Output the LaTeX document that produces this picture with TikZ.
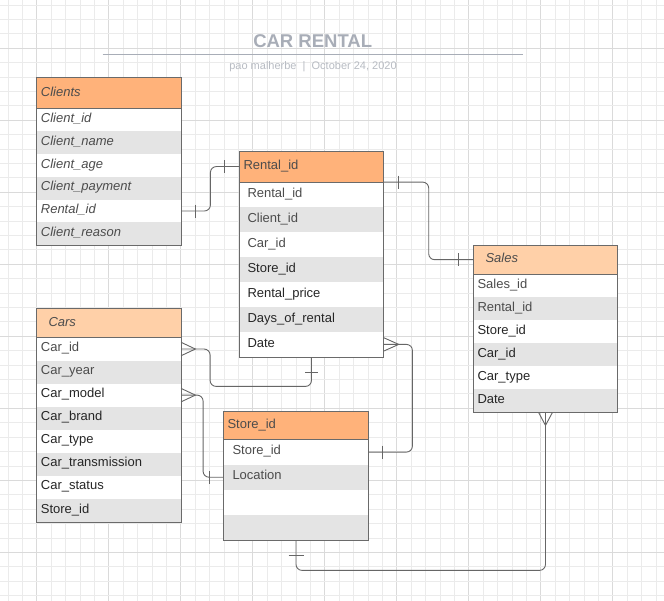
\documentclass[tikz,border=0pt]{standalone}
\usepackage{fontspec}
\setmainfont{Liberation Sans}
\usetikzlibrary{calc}
\definecolor{gridminor}{HTML}{EBEBEB}
\definecolor{gridmajor}{HTML}{DADADA}
\definecolor{hdrA}{HTML}{FFB27A}
\definecolor{hdrB}{HTML}{FFD0A8}
\definecolor{rowgrey}{HTML}{E4E4E4}
\definecolor{boxc}{HTML}{6A6A6A}
\definecolor{connc}{HTML}{666666}
\definecolor{titlec}{HTML}{A8ADB7}
\definecolor{subc}{HTML}{B8BCC3}
\definecolor{txtdark}{HTML}{262626}
\definecolor{txtgrey}{HTML}{4C4C4C}
\tikzset{
  hdrbox/.style={anchor=north west, inner sep=0pt, draw=none},
  rowbox/.style={anchor=north west, inner sep=0pt, draw=none},
  celltext/.style={font=\fontsize{13}{15}\selectfont, text=txtdark, inner sep=0pt, text height=9.3pt, text depth=0pt},
  boxline/.style={draw=boxc, line width=0.9pt},
  conn/.style={draw=connc, line width=0.9pt, rounded corners=6pt},
  tick/.style={draw=connc, line width=0.9pt},
}
% #1 name, #2 x, #3 ytop, #4 width, #5 header h, #6 row h, #7 header fill, #8 header text, #9 rows
\newcommand\erdtable[9]{%
  \node[hdrbox,fill=#7,minimum width=#4pt,minimum height=#5pt] (#1-h) at (#2,#3) {};
  \node[celltext,anchor=west,text=txtgrey] (#1-ht) at ([xshift=\hpad pt,yshift=1.5pt]#1-h.west) {#8};
  \foreach \t [count=\i] in {#9} {
    \pgfmathsetmacro\yy{#3+#5+(\i-1)*#6}
    \ifodd\i \def\rf{white}\else\def\rf{rowgrey}\fi
    \node[rowbox,fill=\rf,minimum width=#4pt,minimum height=#6pt] (#1-\i) at (#2,\yy) {};
    \node[celltext,anchor=west] (#1-\i-t) at ([xshift=\rpad pt,yshift=2pt]#1-\i.west) {\t};
    \xdef\lastrow{\i}
  }
  \draw[boxline] (#1-h.north west) rectangle (#1-\lastrow.south east);
  \draw[boxline] (#1-h.south west) -- (#1-h.south east);
}
\begin{document}
\begin{tikzpicture}[x=1pt,y=-1pt]
\useasboundingbox[fill=white] (0,0) rectangle (664,601);
\begin{scope}
\clip (0,0) rectangle (664,601);
\foreach \k in {0,...,46} {
  \pgfmathsetmacro\gx{7.9+\k*14.4}
  \pgfmathtruncatemacro\mm{mod(\k,5)}
  \ifnum\mm=2 \draw[gridmajor,line width=1pt] (\gx,0) -- (\gx,601);
  \else \draw[gridminor,line width=0.8pt] (\gx,0) -- (\gx,601); \fi
}
\foreach \k in {0,...,41} {
  \pgfmathsetmacro\gy{5.1+\k*14.4}
  \pgfmathtruncatemacro\mm{mod(\k,5)}
  \ifnum\mm=3 \draw[gridmajor,line width=1pt] (0,\gy) -- (664,\gy);
  \else \draw[gridminor,line width=0.8pt] (0,\gy) -- (664,\gy); \fi
}
\end{scope}

% title
\node[font=\bfseries\fontsize{18.5}{20}\selectfont, text=titlec, inner sep=0pt] (title) at (312.7,40.8) {CAR RENTAL};
\coordinate (tl) at (102.7,54.3);
\coordinate (tr) at (522.7,54.3);
\draw[titlec, line width=1.4pt] (tl) -- (tr);
\node[font=\fontsize{11}{13}\selectfont, text=subc, inner sep=0pt, anchor=base] (sub) at (313,69.5) {pao malherbe\ \ |\ \ October 24, 2020};

% tables
\def\hpad{4.7}\def\rpad{4.7}
\erdtable{clients}{36}{77.3}{145}{31}{22.78}{hdrA}{\itshape Clients}{{\itshape\color{txtgrey}Client\_id},{\itshape\color{txtgrey}Client\_name},{\itshape\color{txtgrey}Client\_age},{\itshape\color{txtgrey}Client\_payment},{\itshape\color{txtgrey}Rental\_id},{\itshape\color{txtgrey}Client\_reason}}

\def\hpad{4}\def\rpad{8}
\erdtable{rental}{239.3}{151}{144}{30.7}{25}{hdrA}{Rental\_id}{{\color{txtgrey}Rental\_id},{\color{txtgrey}Client\_id},{\color{txtgrey}Car\_id},Store\_id,Rental\_price,Days\_of\_rental,Date}

\def\hpad{12}\def\rpad{4}
\erdtable{sales}{473.3}{245}{144}{29}{23.05}{hdrB}{\itshape Sales}{{\color{txtgrey}Sales\_id},{\color{txtgrey}Rental\_id},Store\_id,Car\_id,Car\_type,Date}

\def\hpad{12.3}\def\rpad{4.7}
\erdtable{cars}{36}{308.3}{144.7}{29}{23.05}{hdrB}{\itshape Cars}{{\color{txtgrey}Car\_id},{\color{txtgrey}Car\_year},Car\_model,Car\_brand,Car\_type,Car\_transmission,Car\_status,Store\_id}

\def\hpad{4}\def\rpad{9}
\erdtable{store}{223.3}{411}{145}{28.3}{25.17}{hdrA}{Store\_id}{{\color{txtgrey}Store\_id},{\color{txtgrey}Location},\mbox{},\mbox{}}

% C1: Clients.Rental_id -- Rental
\draw[conn] (clients-5.east) -- ([xshift=29pt]clients-5.east) |- (rental-h.west);
\draw[tick] ([xshift=14pt]clients-5.east) ++(0,-6.5) -- ++(0,13);
\draw[tick] ([xshift=-15pt]rental-h.west) ++(0,-6.5) -- ++(0,13);

% C2: Rental -- Sales
\draw[conn] (rental-h.south east) -- ([xshift=45pt]rental-h.south east) |- (sales-h.west);
\draw[tick] ([xshift=15pt]rental-h.south east) ++(0,-6.5) -- ++(0,13);
\draw[tick] ([xshift=-15pt]sales-h.west) ++(0,-6.5) -- ++(0,13);

% C3: Cars.Car_id (many) -- Rental bottom
\draw[conn] (cars-1.east) -- ([xshift=29pt]cars-1.east) |- ($(rental-7.south)+(0,29.3)$) -- (rental-7.south);
\draw[tick] ([yshift=6.7pt]cars-1.east) -- ([xshift=14.3pt]cars-1.east) -- ([yshift=-6.7pt]cars-1.east);
\draw[tick] ($(rental-7.south)+(-6.5,15)$) -- ++(13,0);

% C4: Cars.Car_model (many) -- Store.Location
\draw[conn] (cars-3.east) -- ([xshift=22pt]cars-3.east) |- (store-2.west);
\draw[tick] ([yshift=6.7pt]cars-3.east) -- ([xshift=14.3pt]cars-3.east) -- ([yshift=-6.7pt]cars-3.east);
\draw[tick] ([xshift=-14pt]store-2.west) ++(0,-6.5) -- ++(0,13);

% C5: Store.Store_id -- Rental.Date (many)
\draw[conn] (store-1.east) -- ([xshift=43.7pt]store-1.east) |- (rental-7.east);
\draw[tick] ([yshift=6.7pt]rental-7.east) -- ([xshift=15pt]rental-7.east) -- ([yshift=-6.7pt]rental-7.east);
\draw[tick] ([xshift=14pt]store-1.east) ++(0,-6.5) -- ++(0,13);

% C6: Store bottom -- Sales bottom (many)
\draw[conn] (store-4.south) -- ($(store-4.south)+(0,30)$) -| (sales-6.south);
\draw[tick] ([xshift=-6.8pt]sales-6.south) -- ([yshift=-12.7pt]sales-6.south) -- ([xshift=6.8pt]sales-6.south);
\draw[tick] ($(store-4.south)+(-7.5,15)$) -- ++(15,0);
\end{tikzpicture}
\end{document}
